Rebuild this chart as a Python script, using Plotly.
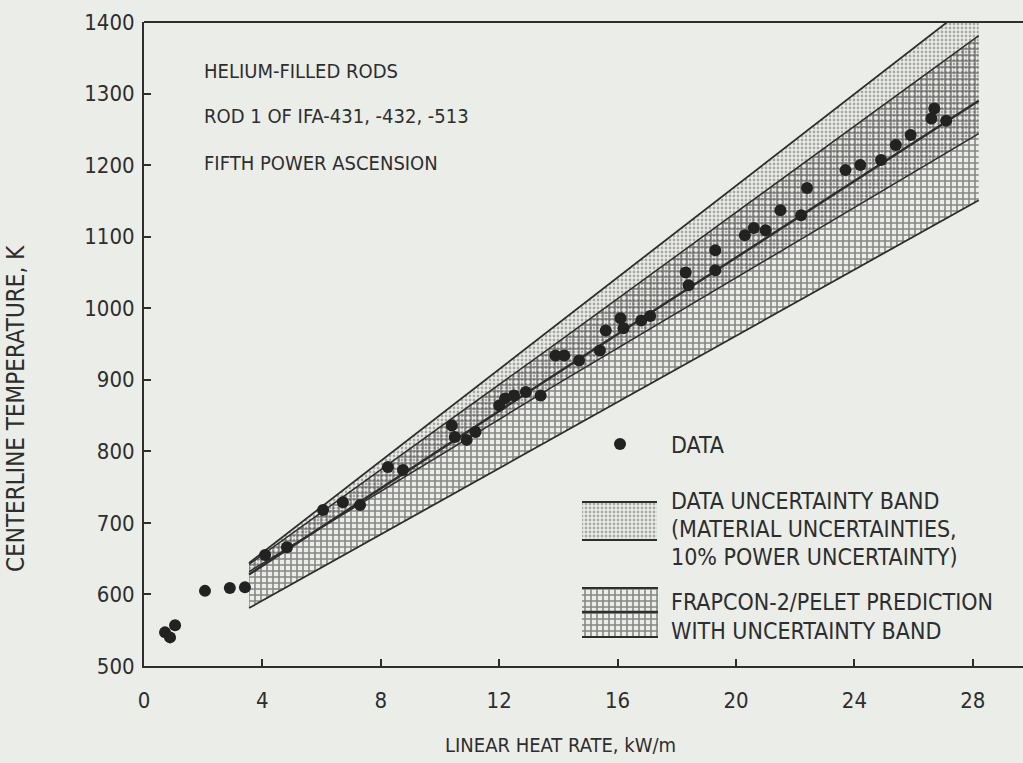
import plotly.graph_objects as go

# ---------------- data ----------------
heat_rate = [0.71, 0.88, 1.05, 2.06, 2.9, 3.41, 4.09, 4.83, 6.05, 6.72, 7.3, 8.24, 8.75,
             10.4, 10.5, 10.9, 11.2, 12.0, 12.2, 12.5, 12.9, 13.4,
             13.9, 14.2, 14.7, 15.4, 15.6, 16.1, 16.2, 16.8, 17.1,
             18.3, 18.4, 19.3, 19.3, 20.3, 20.6, 21.0, 21.5, 22.2, 22.4,
             23.7, 24.2, 24.9, 25.4, 25.9, 26.6, 26.7, 27.1]
temperature = [547, 540, 557, 605, 609, 610, 655, 666, 718, 729, 725, 778, 774,
               836, 820, 816, 827, 864, 874, 878, 883, 878,
               934, 934, 927, 941, 969, 986, 972, 983, 989,
               1050, 1032, 1081, 1053, 1102, 1112, 1109, 1137, 1130, 1168,
               1193, 1200, 1207, 1228, 1242, 1265, 1279, 1262]

band_x = [3.55, 13.8, 28.2]
data_band_upper = [644, 973, 1434]
data_band_lower = [632, 890, 1244]
frap_upper = [642, 947, 1381]
frap_lower = [581, 818, 1151]
frap_pred = [628, 905, 1290]

x_ticks = [0, 4, 8, 12, 16, 20, 24, 28]
y_ticks = [500, 600, 700, 800, 900, 1000, 1100, 1200, 1300, 1400]

notes = ["HELIUM-FILLED RODS", "ROD 1 OF IFA-431, -432, -513", "FIFTH POWER ASCENSION"]
legend_labels = ["DATA",
                 "DATA UNCERTAINTY BAND",
                 "(MATERIAL UNCERTAINTIES,",
                 "10% POWER UNCERTAINTY)",
                 "FRAPCON-2/PELET PREDICTION",
                 "WITH UNCERTAINTY BAND"]

# ---------------- style ----------------
BG = "#ebede8"
INK = "#2e2e2e"
FONT_TXT = "DejaVu Sans Condensed, Liberation Sans Narrow, sans-serif"
FONT_NUM = "Liberation Sans Narrow, DejaVu Sans Condensed, sans-serif"

dot_pattern = dict(shape=".", size=4, solidity=0.4, fgcolor="#666666",
                   bgcolor="rgba(0,0,0,0)", fillmode="overlay")
cross_pattern = dict(shape="+", size=6, solidity=0.45, fgcolor="#1e1e1e",
                     bgcolor="rgba(0,0,0,0)", fillmode="overlay")

fig = go.Figure()

# data uncertainty band (dotted)
fig.add_trace(go.Scatter(
    x=band_x + band_x[::-1], y=data_band_upper + data_band_lower[::-1],
    fill="toself", fillcolor="rgba(0,0,0,0)", fillpattern=dot_pattern,
    mode="lines", line=dict(width=0), hoverinfo="skip", showlegend=False))
# FRAPCON band (crosshatch)
fig.add_trace(go.Scatter(
    x=band_x + band_x[::-1], y=frap_upper + frap_lower[::-1],
    fill="toself", fillcolor="rgba(0,0,0,0)", fillpattern=cross_pattern,
    mode="lines", line=dict(width=0), hoverinfo="skip", showlegend=False))

for yy, w in [(data_band_upper, 1.8), (data_band_lower, 1.5), (frap_upper, 1.5),
              (frap_lower, 1.8), (frap_pred, 2.4)]:
    fig.add_trace(go.Scatter(x=band_x, y=yy, mode="lines",
                             line=dict(color=INK, width=w),
                             hoverinfo="skip", showlegend=False))

fig.add_trace(go.Scatter(x=heat_rate, y=temperature, mode="markers",
                         marker=dict(size=12, color="#222222"),
                         showlegend=False, cliponaxis=False))

# ---------------- legend swatches on a pixel overlay axis ----------------
ov = dict(xaxis="x2", yaxis="y2", hoverinfo="skip", showlegend=False)
fig.add_trace(go.Scatter(x=[620], y=[444], mode="markers",
                         marker=dict(size=12, color="#222222"), **ov))
fig.add_trace(go.Scatter(x=[582, 657, 657, 582], y=[502, 502, 540, 540],
                         fill="toself", fillcolor="rgba(0,0,0,0)",
                         fillpattern=dot_pattern, mode="lines",
                         line=dict(width=0), **ov))
for yy in (502, 540):
    fig.add_trace(go.Scatter(x=[582, 657], y=[yy, yy], mode="lines",
                             line=dict(color=INK, width=1.8), **ov))
fig.add_trace(go.Scatter(x=[582, 658, 658, 582], y=[588, 588, 637, 637],
                         fill="toself", fillcolor="rgba(0,0,0,0)",
                         fillpattern=cross_pattern, mode="lines",
                         line=dict(width=0), **ov))
for yy, w in [(588, 1.8), (612, 2.4), (637, 1.8)]:
    fig.add_trace(go.Scatter(x=[582, 658], y=[yy, yy], mode="lines",
                             line=dict(color=INK, width=w), **ov))

annotations = []
for txt, py in zip(notes, [71, 116, 163]):
    annotations.append(dict(x=202, y=py, xref="x2", yref="y2", text=txt,
                            showarrow=False, xanchor="left", yanchor="middle",
                            font=dict(family=FONT_TXT, size=20, color=INK)))
for txt, py in zip(legend_labels, [445, 501, 529, 557, 602, 631]):
    annotations.append(dict(x=669, y=py, xref="x2", yref="y2", text=txt,
                            showarrow=False, xanchor="left", yanchor="middle",
                            font=dict(family=FONT_TXT, size=23, color=INK)))
annotations.append(dict(x=(560 - 144) / 879, y=-0.123, xref="paper",
                        yref="paper", text="LINEAR HEAT RATE, kW/m", showarrow=False,
                        xanchor="center", yanchor="middle",
                        font=dict(family=FONT_TXT, size=20, color=INK)))
annotations.append(dict(x=-0.145, y=0.40, xref="paper", yref="paper",
                        text="CENTERLINE TEMPERATURE, K", textangle=-90,
                        showarrow=False, xanchor="center", yanchor="middle",
                        font=dict(family=FONT_TXT, size=24, color=INK)))

fig.update_layout(
    width=1023, height=763,
    margin=dict(l=144, r=0, t=22, b=97),
    paper_bgcolor=BG, plot_bgcolor=BG,
    showlegend=False,
    annotations=annotations,
    xaxis=dict(range=[0, 879 / 29.6], tickvals=x_ticks, ticks="inside", ticklen=7,
               tickcolor=INK, tickwidth=1.5, showgrid=False, zeroline=False,
               showline=True, linecolor=INK, linewidth=2, mirror=False,
               ticklabelstandoff=14,
               tickfont=dict(family=FONT_NUM, size=22, color=INK)),
    yaxis=dict(range=[500, 1400], tickvals=y_ticks, ticks="inside", ticklen=7,
               tickcolor=INK, tickwidth=1.5, showgrid=False, zeroline=False,
               showline=True, linecolor=INK, linewidth=2,
               ticklabelstandoff=3,
               tickfont=dict(family=FONT_NUM, size=22, color=INK)),
    xaxis2=dict(overlaying="x", range=[144, 1023], visible=False, fixedrange=True),
    yaxis2=dict(overlaying="y", range=[666, 22], visible=False, fixedrange=True),
    shapes=[dict(type="line", xref="paper", yref="paper", x0=0, x1=1, y0=1, y1=1,
                 line=dict(color=INK, width=2))],
)

fig.write_html("out.html")
